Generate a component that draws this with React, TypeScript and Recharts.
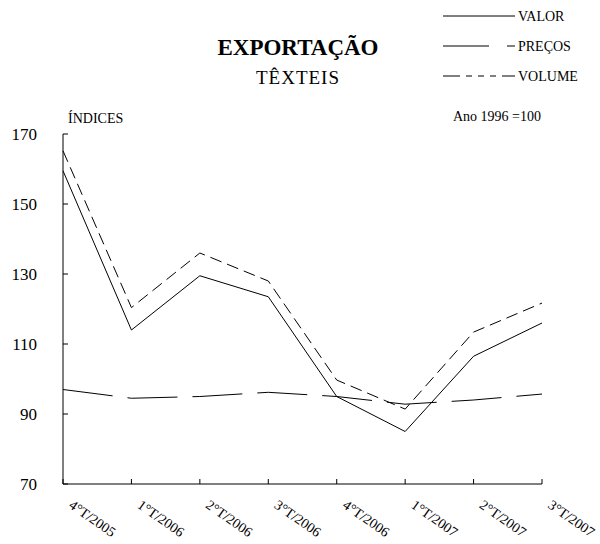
import { LineChart, Line, XAxis, YAxis } from 'recharts';

const quarters = ['4°T/2005', '1°T/2006', '2°T/2006', '3°T/2006', '4°T/2006', '1°T/2007', '2°T/2007', '3°T/2007'];
const valor = [159.5, 114, 129.5, 123.5, 95, 85, 106.5, 116];
const precos = [97, 94.5, 95, 96.2, 95, 92.8, 94, 95.7];
const volume = [165.2, 120.4, 136, 128, 99.7, 91.4, 113.4, 121.7];
const yTicks = [70, 90, 110, 130, 150, 170];

const data = quarters.map((q, i) => ({ q, valor: valor[i], precos: precos[i], volume: volume[i] }));

const FONT = 'Times New Roman';
const serif = { fontFamily: FONT };

function XTick(props: any) {
  const { x, y, payload } = props;
  return (
    <text
      x={x + 5}
      y={y + 2}
      transform={`rotate(35 ${x + 5} ${y + 2})`}
      textAnchor="start"
      fontSize={14}
      fontFamily={FONT}
      fill="#000"
      style={serif}
    >
      {payload.value}
    </text>
  );
}

function YTick(props: any) {
  const { x, y, payload } = props;
  return (
    <text x={x} y={y + 6} textAnchor="end" fontSize={17} fontFamily={FONT} fill="#000" style={serif}>
      {payload.value}
    </text>
  );
}

export default function App() {
  return (
    <div style={{ position: 'absolute', left: 0, top: 0, width: 600, height: 544, background: '#fff', ...serif }}>
      <LineChart width={600} height={544} data={data} margin={{ top: 134, right: 58, bottom: 0, left: 3 }}>
        <XAxis
          dataKey="q"
          stroke="#000"
          tickSize={-5}
          tickMargin={26}
          tick={<XTick />}
          height={60}
          interval={0}
        />
        <XAxis xAxisId="top" orientation="top" dataKey="q" height={0} tick={false} tickLine={false} stroke="#000" />
        <YAxis
          domain={[70, 170]}
          ticks={yTicks}
          stroke="#000"
          tickSize={-5}
          tickMargin={31}
          width={60}
          tick={<YTick />}
        />
        <YAxis yAxisId="r" orientation="right" domain={[70, 170]} width={0} tick={false} tickLine={false} stroke="#000" />
        <Line dataKey="valor" stroke="#000" strokeWidth={1} dot={false} isAnimationActive={false} />
        <Line dataKey="precos" stroke="#000" strokeWidth={1} strokeDasharray="50 15" dot={false} isAnimationActive={false} />
        <Line dataKey="volume" stroke="#000" strokeWidth={1} strokeDasharray="12 6" dot={false} isAnimationActive={false} />
      </LineChart>
      <svg width={600} height={544} style={{ position: 'absolute', left: 0, top: 0, pointerEvents: 'none' }}>
        <text x={298} y={55} textAnchor="middle" fontSize={23} fontWeight="bold" fontFamily={FONT} style={serif}>EXPORTAÇÃO</text>
        <text x={298} y={84} textAnchor="middle" fontSize={19} letterSpacing={1} fontFamily={FONT} style={serif}>TÊXTEIS</text>
        <text x={68} y={123} fontSize={14} fontFamily={FONT} style={serif}>ÍNDICES</text>
        <text x={541} y={121} textAnchor="end" fontSize={14} fontFamily={FONT} style={serif}>Ano 1996 =100</text>
        <text x={518} y={21} fontSize={14} fontFamily={FONT} style={serif}>VALOR</text>
        <text x={518} y={51} fontSize={14} fontFamily={FONT} style={serif}>PREÇOS</text>
        <text x={518} y={81} fontSize={14} fontFamily={FONT} style={serif}>VOLUME</text>
        <line x1={443} y1={16} x2={515} y2={16} stroke="#000" />
        <line x1={443} y1={46} x2={515} y2={46} stroke="#000" strokeDasharray="46 18" />
        <line x1={443} y1={76} x2={515} y2={76} stroke="#000" strokeDasharray="17 6 6 6 6 6 6 6" />
      </svg>
    </div>
  );
}
